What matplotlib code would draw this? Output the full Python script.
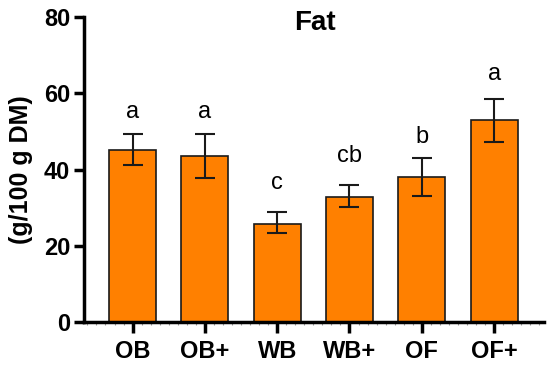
import numpy as np
import matplotlib.pyplot as plt
from matplotlib.ticker import MultipleLocator

# --- data ---
groups = ['OB', 'OB+', 'WB', 'WB+', 'OF', 'OF+']
fat_mean = [45.1, 43.5, 25.8, 32.9, 38.1, 52.9]
fat_err_hi = [49.3, 49.3, 28.9, 36.0, 43.1, 58.6]
fat_err_lo = [41.1, 37.8, 23.4, 30.1, 33.1, 47.3]
letters = ['a', 'a', 'c', 'cb', 'b', 'a']
letter_y = [55.0, 55.0, 36.5, 43.5, 48.5, 65.0]

plt.rcParams['font.family'] = ['Liberation Sans', 'DejaVu Sans']

fig = plt.figure(figsize=(5.5, 3.71), dpi=100)
ax = fig.add_axes([0.153, 0.132, 0.836, 0.822])

x = np.arange(len(groups))
mean = np.array(fat_mean)
yerr = [mean - np.array(fat_err_lo), np.array(fat_err_hi) - mean]

ax.bar(x, mean, width=0.65, color='#FF8000', edgecolor='#1a1a1a', linewidth=1.2, zorder=2)
ax.errorbar(x, mean, yerr=yerr, fmt='none', ecolor='#1a1a1a', elinewidth=1.5,
            capsize=7.5, capthick=1.5, zorder=3)

for xi, lab, ly in zip(x, letters, letter_y):
    ax.text(xi, ly, lab, ha='center', va='center', fontsize=17)

ax.set_xlim(-0.67, 5.69)
ax.set_ylim(0, 80)
ax.yaxis.set_major_locator(MultipleLocator(20))
ax.set_xticks(x)
ax.set_xticklabels(groups, fontsize=17, fontweight='bold')
for t in ax.get_yticklabels():
    t.set_fontweight('bold')
ax.tick_params(axis='y', labelsize=17, width=2.5, length=7, pad=3)
ax.tick_params(axis='x', width=2.5, length=8, pad=5)
ax.xaxis.set_minor_locator(MultipleLocator(0.125))
ax.tick_params(axis='x', which='minor', length=2, width=0.8, color='#999999')

for side in ['top', 'right']:
    ax.spines[side].set_visible(False)
for side in ['left', 'bottom']:
    ax.spines[side].set_linewidth(2.5)

ax.set_ylabel('(g/100 g DM)', fontsize=18, fontweight='bold', labelpad=8)
fig.text(315 / 550, 1 - 23 / 371, 'Fat', fontsize=20, fontweight='bold',
         ha='center', va='center')

fig.savefig('out.png', dpi=100)
